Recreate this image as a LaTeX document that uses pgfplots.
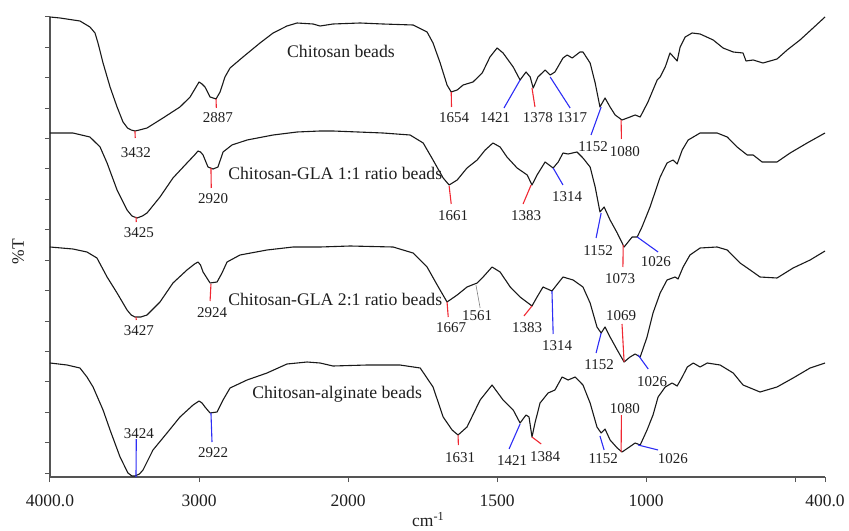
\documentclass[border=0pt]{standalone}
\usepackage{fontspec}
\setmainfont{Liberation Serif}
\usepackage{pgfplots}
\pgfplotsset{compat=1.18}
\definecolor{ared}{RGB}{240,40,50}
\definecolor{ablue}{RGB}{45,45,245}
\definecolor{axgray}{RGB}{85,85,85}
\pgfplotsset{curve/.style={black!90, line width=1.1pt, mark=none, line join=round}}
\tikzset{rl/.style={ared, line width=1.1pt}, bl/.style={ablue, line width=1.1pt}}
\newcommand{\lab}[3]{\node[font=\fontsize{15}{17}\selectfont, inner sep=0pt, text=black!88] at (axis cs:#1,#2) {#3};}
\newcommand{\nam}[3]{\node[anchor=west, font=\fontsize{17.7}{20}\selectfont, inner sep=0pt, text=black!88] at (axis cs:#1,#2) {#3};}
\begin{document}
\begin{tikzpicture}
\begin{axis}[name=ax, scale only axis, width=775pt, height=460pt,
  x coord trafo/.code={\pgfmathparse{#1>=2000 ? 4000-#1 : 6000-2*#1}},
  xmin=4000, xmax=400, ymin=0, ymax=460,
  axis x line=bottom, axis y line=left,
  axis line style={-, axgray, line width=1.3pt},
  xtick={4000,3000,2000,1500,1000,500,400},
  xticklabels={4000.0,3000,2000,1500,1000,,400.0},
  ytick={4,34.4,64.8,95.2,125.6,156,186.4,216.8,247.2,277.6,308,338.4,368.8,399.2,429.6,460},
  yticklabels={},
  tick align=outside, major tick length=5pt,
  tick style={axgray, line width=1pt},
  /pgf/number format/assume math mode=true,
  ticklabel style={font=\fontsize{17.5}{20}\selectfont, text=black!88},
  xticklabel style={yshift=-9pt},
  xlabel={cm\textsuperscript{-1}},
  xlabel style={at={(axis description cs:0.488,-0.092)}, anchor=center, font=\fontsize{17.5}{20}\selectfont, text=black!88},
  ylabel={\%T},
  ylabel style={at={(axis description cs:-0.041,0.49)}, anchor=center, rotate=0, font=\fontsize{17.5}{20}\selectfont, text=black!88},
  clip=false,
]
% Chitosan beads
\addplot[curve] coordinates {(4000,460)(3933,459)(3799,456)(3732,450)(3698,444)(3678,434)(3644,414)(3597,390)(3550,370)(3510,355)(3480,349)(3455,347)(3430,346)(3400,347)(3349,349)(3242,359)(3128,370)(3060,380)(3020,390)(3000,395)(2980,393)(2960,390)(2926,380)(2886,378)(2859,385)(2826,400)(2792,409)(2705,420)(2591,434)(2503,444)(2410,451)(2342,454)(2235,453)(2188,451)(2101,453)(1960,454)(1883,453)(1782,452)(1735,445)(1715,434)(1691,414)(1668,392)(1654,385)(1634,387)(1614,392)(1581,395)(1550,404)(1524,420)(1500,429)(1480,424)(1446,410)(1423,397)(1403,405)(1389,400)(1379,389)(1363,400)(1339,407)(1322,402)(1306,405)(1279,419)(1265,422)(1248,419)(1222,425)(1212,425)(1188,414)(1171,394)(1155,370)(1138,379)(1121,370)(1104,362)(1081,357)(1054,360)(1037,362)(1020,360)(994,375)(963,397)(953,400)(936,410)(920,424)(896,416)(886,430)(869,440)(846,444)(819,443)(775,437)(742,429)(708,425)(675,424)(665,416)(641,417)(608,414)(561,418)(527,427)(484,437)(440,449)(400,460)};
% Chitosan-GLA 1:1
\addplot[curve] coordinates {(4000,344)(3846,344)(3732,340)(3664,330)(3617,314)(3550,287)(3483,267)(3450,261)(3416,259)(3380,261)(3349,264)(3262,280)(3175,299)(3081,314)(3030,322)(3007,326)(2990,325)(2973,322)(2940,310)(2906,308)(2873,310)(2839,325)(2779,332)(2678,337)(2503,342)(2342,345)(2188,346)(2101,346)(1883,344)(1792,342)(1748,334)(1715,317)(1681,299)(1661,292)(1634,297)(1601,309)(1567,317)(1540,327)(1514,334)(1490,330)(1467,320)(1433,309)(1399,302)(1383,292)(1366,302)(1339,315)(1312,309)(1295,315)(1279,324)(1262,323)(1232,325)(1212,319)(1188,310)(1171,290)(1155,265)(1141,270)(1121,257)(1097,244)(1074,230)(1047,240)(1030,240)(1014,250)(987,270)(953,300)(930,314)(910,317)(896,313)(879,327)(859,337)(819,344)(762,344)(728,340)(695,330)(661,322)(641,322)(611,315)(561,315)(517,324)(460,334)(400,344)};
% Chitosan-GLA 2:1
\addplot[curve] coordinates {(4000,230)(3846,228)(3752,225)(3685,219)(3617,200)(3550,184)(3483,167)(3455,162)(3430,160)(3390,160)(3349,162)(3262,175)(3175,194)(3081,207)(3030,213)(3007,215)(2990,212)(2973,205)(2926,194)(2879,195)(2846,204)(2812,215)(2725,222)(2544,227)(2369,230)(2188,230)(1993,231)(1849,230)(1782,224)(1735,210)(1701,192)(1668,175)(1634,182)(1601,190)(1567,194)(1547,200)(1517,210)(1490,205)(1456,190)(1423,180)(1383,171)(1366,180)(1346,190)(1316,186)(1295,194)(1279,200)(1245,197)(1212,190)(1188,174)(1165,150)(1151,144)(1138,150)(1121,140)(1097,127)(1074,115)(1054,120)(1037,123)(1020,120)(997,140)(977,164)(953,184)(930,197)(903,200)(893,198)(876,210)(853,222)(819,229)(762,230)(728,227)(685,214)(651,207)(618,200)(561,199)(507,209)(450,217)(400,226)};
% Chitosan-alginate
\addplot[curve] coordinates {(4000,114)(3886,112)(3799,109)(3752,100)(3711,90)(3644,67)(3597,47)(3530,20)(3477,4)(3450,1)(3430,1)(3400,3)(3376,7)(3309,27)(3215,44)(3128,60)(3040,72)(3000,76)(2980,74)(2960,70)(2926,64)(2879,65)(2839,77)(2792,89)(2678,97)(2544,104)(2410,113)(2275,115)(2188,114)(2101,111)(1936,112)(1826,112)(1758,109)(1715,90)(1681,60)(1651,47)(1631,42)(1601,50)(1557,77)(1517,92)(1480,77)(1446,67)(1423,54)(1403,62)(1393,60)(1383,40)(1373,54)(1356,74)(1329,84)(1306,87)(1282,100)(1262,97)(1238,100)(1212,92)(1188,74)(1165,50)(1151,44)(1138,48)(1121,37)(1097,29)(1081,25)(1061,29)(1037,34)(1020,32)(997,47)(977,62)(960,80)(936,90)(913,94)(896,91)(879,100)(862,110)(842,114)(819,110)(795,114)(752,112)(708,104)(675,92)(618,85)(561,90)(507,99)(450,109)(400,114)};

% ---- annotations, curve 1
\draw[rl] (axis cs:3430,346) -- (axis cs:3428,339);
\lab{3423}{324}{3432}
\draw[rl] (axis cs:2886,378) -- (axis cs:2884,369);
\lab{2873}{359}{2887}
\draw[rl] (axis cs:1654,385) -- (axis cs:1653,370);
\lab{1644}{359}{1654}
\draw[bl] (axis cs:1423,397) -- (axis cs:1477,369);
\lab{1507}{359}{1421}
\draw[rl] (axis cs:1383,389) -- (axis cs:1373,370);
\lab{1363}{359}{1378}
\draw[bl] (axis cs:1322,400) -- (axis cs:1255,369);
\lab{1248}{359}{1317}
\draw[bl] (axis cs:1151,370) -- (axis cs:1185,342);
\lab{1178}{330}{1152}
\draw[rl] (axis cs:1084,357) -- (axis cs:1083,338);
\lab{1071}{325}{1080}
% curve 2
\draw[rl] (axis cs:3423,260) -- (axis cs:3421,255);
\lab{3403}{244}{3425}
\draw[rl] (axis cs:2920,309) -- (axis cs:2918,289);
\lab{2906}{278}{2920}
\draw[rl] (axis cs:1661,291) -- (axis cs:1654,273);
\lab{1648}{261}{1661}
\draw[rl] (axis cs:1386,292) -- (axis cs:1413,273);
\lab{1403}{261}{1383}
\draw[bl] (axis cs:1312,309) -- (axis cs:1279,292);
\lab{1265}{280}{1314}
\draw[bl] (axis cs:1151,264) -- (axis cs:1168,239);
\lab{1161}{226}{1152}
\draw[rl] (axis cs:1077,232) -- (axis cs:1078,210);
\lab{1087}{198}{1073}
\draw[bl] (axis cs:1030,240) -- (axis cs:960,225);
\lab{967}{215}{1026}
% curve 3
\draw[rl] (axis cs:3423,160) -- (axis cs:3421,157);
\lab{3403}{146}{3427}
\draw[rl] (axis cs:2920,193) -- (axis cs:2926,176);
\lab{2913}{164}{2924}
\draw[rl] (axis cs:1668,175) -- (axis cs:1664,160);
\lab{1654}{149}{1667}
\draw[gray, line width=0.6pt] (axis cs:1571,192) -- (axis cs:1557,169);
\lab{1567}{161}{1561}
\draw[rl] (axis cs:1383,171) -- (axis cs:1410,161);
\lab{1399}{149}{1383}
\draw[bl] (axis cs:1316,186) -- (axis cs:1312,143);
\lab{1299}{131}{1314}
\draw[bl] (axis cs:1151,144) -- (axis cs:1168,124);
\lab{1158}{112}{1152}
\draw[rl] (axis cs:1074,115) -- (axis cs:1081,153);
\lab{1084}{161}{1069}
\draw[bl] (axis cs:1027,122) -- (axis cs:993,108);
\lab{980}{95}{1026}
% curve 4
\draw[bl] (axis cs:3423,0) -- (axis cs:3421,38);
\lab{3403}{43}{3424}
\draw[bl] (axis cs:2920,64) -- (axis cs:2913,35);
\lab{2906}{24}{2922}
\draw[rl] (axis cs:1631,42) -- (axis cs:1630,32);
\lab{1624}{19}{1631}
\draw[bl] (axis cs:1423,53) -- (axis cs:1460,28);
\lab{1450}{16}{1421}
\draw[rl] (axis cs:1383,40) -- (axis cs:1352,33);
\lab{1339}{20}{1384}
\draw[bl] (axis cs:1155,41) -- (axis cs:1141,27);
\lab{1144}{18}{1152}
\draw[rl] (axis cs:1084,25) -- (axis cs:1083,62);
\lab{1071}{68}{1080}
\draw[bl] (axis cs:1027,32) -- (axis cs:960,27);
\lab{910}{18}{1026}
% names
\nam{2410}{426}{Chitosan beads}
\nam{2805}{304}{Chitosan-GLA 1:1 ratio beads}
\nam{2805}{178}{Chitosan-GLA 2:1 ratio beads}
\nam{2644}{83}{Chitosan-alginate beads}
\end{axis}
\pgfresetboundingbox
\path (ax.south west) ++(-50pt,-53pt) rectangle ([xshift=24pt,yshift=17pt]ax.north east);
\end{tikzpicture}
\end{document}
